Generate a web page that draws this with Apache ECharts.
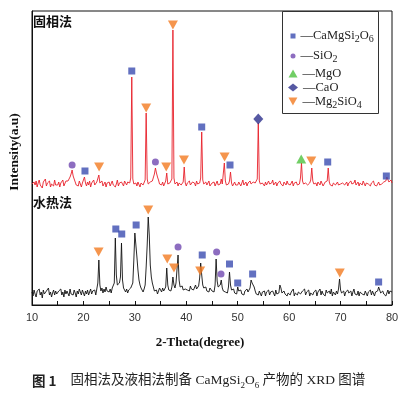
<!DOCTYPE html>
<html>
<head>
<meta charset="utf-8">
<script src="https://cdn.jsdelivr.net/npm/echarts@6/dist/echarts.min.js"></script>
<style>
html,body{margin:0;padding:0;background:#fff;}
#chart{width:403px;height:394px;}
</style>
</head>
<body>
<div id="chart"></div>
<script>
// 2-Theta sampling: start, step (degrees)
const thetaStart = 10;
const thetaStep = 0.2;

// 固相法 (solid-state) trace intensities, one value per 0.2 deg from 10 to 80
const solidIntensity = [
  121,119,123,120,124,118,122,125,120,121,117,123,121,126,119,122,120,124,118,121,123,119,125,120,122,
  120,123,118,122,121,125,119,121,124,125,124,126,128,131,135,129,126,123,120,122,119,124,121,118,122,
  121,128,122,119,123,120,124,118,122,121,125,120,119,123,121,130,122,120,124,119,121,123,118,122,120,
  123,119,121,124,120,122,118,121,125,119,122,120,123,121,119,124,122,120,123,121,122,127,228,126,121,
  120,122,119,123,121,118,122,124,120,121,125,192,126,121,119,123,122,124,126,131,137,132,128,125,121,
  122,120,123,119,121,124,132,121,119,122,123,126,275,127,121,120,123,119,122,124,120,121,123,138,122,
  119,122,121,124,120,118,123,121,122,119,124,121,120,122,127,173,125,121,119,123,120,122,124,119,121,
  122,120,123,119,121,124,120,122,121,126,121,123,142,124,120,122,121,124,133,122,119,121,123,120,122,
  120,123,121,119,122,125,120,121,123,119,122,120,124,121,119,123,121,122,120,126,182,124,121,119,122,
  121,119,123,120,122,124,121,119,122,125,120,121,123,119,122,120,124,121,122,119,123,121,120,124,121,
  122,120,121,124,119,122,121,123,120,122,121,127,142,124,121,119,122,123,120,121,122,125,137,124,121,
  120,122,119,123,121,120,124,122,119,121,123,122,124,137,123,120,121,119,122,124,120,121,123,120,122,
  121,119,122,124,120,121,123,119,122,120,124,121,119,122,125,120,121,123,119,122,121,120,124,122,119,
  122,120,121,123,119,122,121,124,120,122,119,121,123,120,122,121,119,123,122,124,128,126,123,124,125,
  122
];

// 水热法 (hydrothermal) trace intensities, same sampling
const hydroIntensity = [
  13,9,15,11,8,14,12,16,10,13,7,15,11,9,14,12,17,10,13,8,12,15,10,14,11,
  9,14,12,16,10,13,8,15,11,14,12,9,16,11,13,10,15,12,8,14,11,16,13,10,15,
  12,9,14,11,15,10,13,16,11,14,12,15,10,16,22,45,20,14,17,12,16,13,18,14,15,
  13,16,12,17,15,22,67,30,20,18,22,28,62,25,17,15,13,16,12,15,14,17,16,22,45,
  72,60,48,35,25,20,17,15,13,16,20,38,60,88,70,40,28,22,18,14,12,15,11,14,17,
  15,13,17,14,16,18,37,20,15,17,14,18,28,20,17,22,24,50,25,18,16,19,15,17,16,
  18,15,17,14,19,16,18,15,17,20,16,18,19,27,42,30,20,17,15,18,14,16,13,17,15,
  14,16,13,20,46,24,18,16,20,25,17,14,16,13,15,12,18,33,20,15,13,16,12,14,11,
  18,14,12,15,11,13,10,14,12,16,13,11,17,25,22,24,18,14,11,13,10,14,12,9,13,
  11,14,9,13,12,15,10,13,11,14,12,9,15,11,13,12,20,17,12,10,14,11,13,9,12,
  14,10,13,11,16,9,12,14,10,13,15,11,9,14,12,16,10,13,11,15,9,12,14,10,13,
  11,15,9,13,12,16,10,14,11,13,9,15,12,10,14,11,16,9,13,12,10,14,11,16,26,
  15,12,10,14,9,13,11,15,12,10,14,9,13,16,11,12,10,14,9,13,15,11,12,10,14,
  12,9,13,11,15,10,14,12,9,13,11,14,18,15,12,10,14,11,13,9,12,15,11,14,12,
  13
];

// Phase marks [2-theta, intensity] above identified peaks
const caMgSi2O6Marks = [[20.3,134],[29.4,234],[43.0,178],[48.5,140],[67.5,143],[78.9,129],
  [26.3,76],[27.45,71],[30.25,80],[43.1,50],[48.4,41],[50.0,22],[52.9,31],[77.4,23]];
const sio2Marks = [[17.8,140],[34.0,143],[38.4,58],[45.9,53],[46.75,31]];
const mgoMarks = [[62.35,146]];
const caoMarks = [[54.0,186]];
const mg2sio4Marks = [[23.05,138],[32.2,197],[36.1,138],[37.4,280],[39.55,145],[47.45,148],[64.3,144],
  [22.95,53],[32.6,95],[36.3,46],[37.6,37],[42.7,34],[69.85,32]];

const phaseNames = ['CaMgSi2O6','SiO2','MgO','CaO','Mg2SiO4'];
const phaseLabels = ['—CaMgSi{s|2}O{s|6}','—SiO{s|2}','—MgO','—CaO','—Mg{s|2}SiO{s|4}'];
const xTicks = [10, 20, 30, 40, 50, 60, 70, 80];

function toPairs(vals){
  return vals.map((v,i)=>[+(thetaStart + i*thetaStep).toFixed(2), v]);
}

const serif = '"Liberation Serif","Times New Roman",serif';
const phaseColors = ['#3b4cb0','#7048b0','#4dc23f','#2c2f8c','#f27a21'];
// legend icon: [icon, width, height, centre y]
const legendIcons = [
  ['rect',5,5,32],
  ['circle',5,5,52],
  ['triangle',9,8,71],
  ['diamond',10,8,85],
  ['path://M0,0L10,0L5,9Z',9,8,99]
];
const legends = phaseNames.map((n,i)=>{
  const ic = legendIcons[i];
  return {
    data:[{name:n, icon:ic[0]}],
    left: 293 - ic[1]/2, top: ic[3] - ic[2]/2,
    padding:0, itemGap:0, itemWidth:ic[1], itemHeight:ic[2],
    formatter:()=>phaseLabels[i],
    selectedMode:false,
    textStyle:{fontFamily:serif, fontSize:12.5, color:'#222',
      rich:{s:{fontFamily:serif, fontSize:10, color:'#222', verticalAlign:'top', padding:[7,0,0,0]}}}
  };
});

const chart = echarts.init(document.getElementById('chart'), null, {renderer:'canvas'});
chart.setOption({
  animation:false,
  backgroundColor:'#fff',
  grid:{left:30, right:11, top:11, bottom:89, show:true, borderColor:'#111', borderWidth:1},
  xAxis:{
    type:'value', min:xTicks[0], max:xTicks[xTicks.length-1], interval:10,
    name:'2-Theta(degree)', nameLocation:'middle', nameGap:31,
    nameTextStyle:{fontFamily:serif, fontWeight:'bold', fontSize:13, color:'#111', padding:[0,24,0,0]},
    axisLine:{lineStyle:{color:'#111', width:1}},
    axisTick:{show:true, inside:true, length:4, lineStyle:{color:'#111'}},
    minorTick:{show:true, splitNumber:2, length:4, lineStyle:{color:'#111'}},
    axisLabel:{fontFamily:'"Liberation Sans",Arial,sans-serif', fontSize:11, color:'#333', margin:7},
    splitLine:{show:false}
  },
  yAxis:{
    type:'value', min:0, max:294,
    name:'Intensity(a.u)', nameLocation:'middle', nameGap:10,
    nameTextStyle:{fontFamily:serif, fontWeight:'bold', fontSize:13.5, color:'#111', padding:[0,0,0,12]},
    axisLine:{show:true, lineStyle:{color:'#111'}},
    axisTick:{show:false}, axisLabel:{show:false}, splitLine:{show:false}
  },
  legend:legends,
  graphic:[
    {type:'rect', left:282, top:11, shape:{width:96, height:102}, z:5,
      style:{fill:'rgba(255,255,255,0)', stroke:'#333', lineWidth:1}},
    {type:'text', left:33, top:15, style:{text:'固相法', font:'bold 13px "Noto Sans CJK SC"', fill:'#111'}},
    {type:'text', left:33, top:196, style:{text:'水热法', font:'bold 13px "Noto Sans CJK SC"', fill:'#111'}},
    {type:'text', left:32, top:374, style:{
      text:'{b|图 1}{g| }{n|固相法及液相法制备 CaMgSi}{s|2}{n|O}{s|6}{n| 产物的 XRD 图谱}',
      rich:{
        b:{font:'bold 13.5px "Noto Sans CJK SC"', fill:'#222'},
        g:{width:14},
        n:{font:'13.5px "Liberation Serif","Noto Sans CJK SC"', fill:'#222'},
        s:{font:'9px "Liberation Serif"', fill:'#222', verticalAlign:'top', padding:[9,0,0,0]}
      }}}
  ],
  series:[
    {name:'固相法', type:'line', data:toPairs(solidIntensity), showSymbol:false, symbol:'none',
      lineStyle:{color:'#e8202a', width:0.9}, z:2},
    {name:'水热法', type:'line', data:toPairs(hydroIntensity), showSymbol:false, symbol:'none',
      lineStyle:{color:'#111', width:0.9}, z:2},
    {name:'CaMgSi2O6', type:'scatter', data:caMgSi2O6Marks, symbol:'rect', symbolSize:7,
      itemStyle:{color:phaseColors[0]}, z:3},
    {name:'SiO2', type:'scatter', data:sio2Marks, symbol:'circle', symbolSize:7,
      itemStyle:{color:phaseColors[1]}, z:3},
    {name:'MgO', type:'scatter', data:mgoMarks, symbol:'triangle', symbolSize:[10,9],
      itemStyle:{color:phaseColors[2]}, z:3},
    {name:'CaO', type:'scatter', data:caoMarks, symbol:'diamond', symbolSize:[10,11],
      itemStyle:{color:phaseColors[3]}, z:3},
    {name:'Mg2SiO4', type:'scatter', data:mg2sio4Marks, symbol:'triangle', symbolSize:[10,9], symbolRotate:180,
      itemStyle:{color:phaseColors[4]}, z:3}
  ]
});
</script>
</body>
</html>
